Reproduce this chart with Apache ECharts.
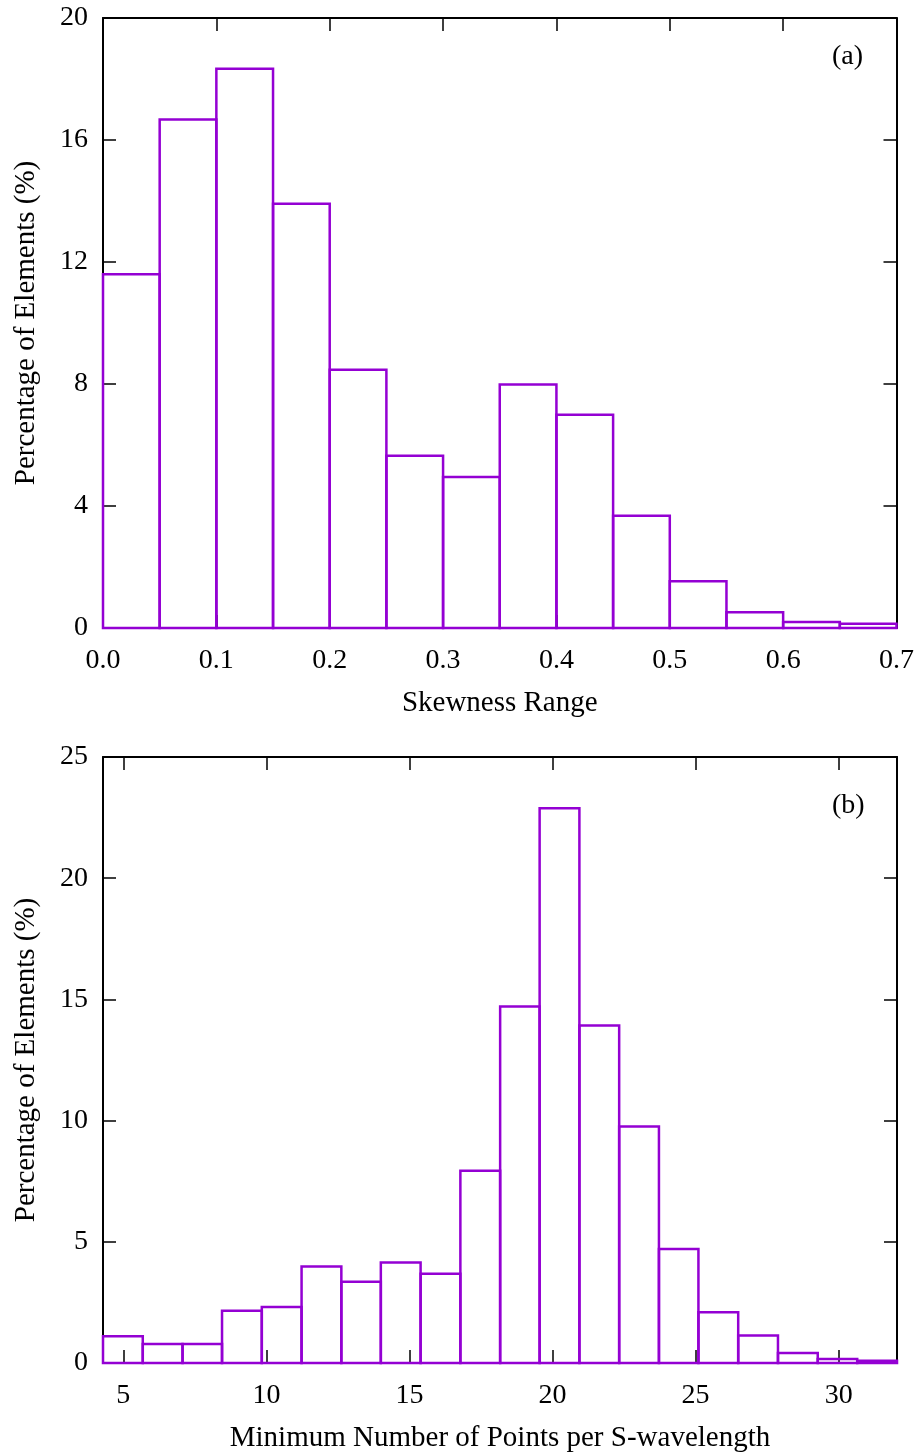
<!DOCTYPE html>
<html>
<head>
<meta charset="utf-8">
<script src="https://cdn.jsdelivr.net/npm/echarts@6/dist/echarts.min.js"></script>
<style>
  html, body { margin: 0; padding: 0; background: #ffffff; }
  #chart { width: 917px; height: 1456px; }
</style>
</head>
<body>
<div id="chart"></div>
<script>
// (a) skewness histogram: bin edges and percentage of elements per bin
const skewEdges = [0.00, 0.05, 0.10, 0.15, 0.20, 0.25, 0.30, 0.35, 0.40, 0.45, 0.50, 0.55, 0.60, 0.65, 0.70];
const skewPercent = [11.6, 16.67, 18.34, 13.91, 8.47, 5.65, 4.95, 7.98, 6.99, 3.68, 1.53, 0.52, 0.20, 0.14];

// (b) minimum points per S-wavelength histogram
const ppwEdges = [4.29, 5.68, 7.07, 8.45, 9.84, 11.23, 12.62, 14.00, 15.39, 16.78, 18.17,
                  19.55, 20.94, 22.33, 23.72, 25.10, 26.49, 27.88, 29.27, 30.65, 32.04];
const ppwPercent = [1.10, 0.78, 0.78, 2.16, 2.31, 3.98, 3.35, 4.15, 3.68, 7.93,
                    14.71, 22.89, 13.92, 9.76, 4.70, 2.09, 1.13, 0.41, 0.16, 0.09];
const ppwTickValues = [5, 10, 15, 20, 25, 30];

const BAR_COLOR = '#9400d3';
const FONT = '"Liberation Serif", "DejaVu Serif", serif';
const TICK_FS = 28;
const NAME_FS = 29;

function binRows(edges, values) {
  return values.map((v, i) => [edges[i], edges[i + 1], v]);
}

function renderBin(params, api) {
  const topLeft = api.coord([api.value(0), api.value(2)]);
  const bottomRight = api.coord([api.value(1), 0]);
  return {
    type: 'rect',
    shape: {
      x: topLeft[0],
      y: topLeft[1],
      width: bottomRight[0] - topLeft[0],
      height: bottomRight[1] - topLeft[1]
    },
    style: { fill: 'none', stroke: BAR_COLOR, lineWidth: 2.5 }
  };
}

const frameLine = { show: true, onZero: false, lineStyle: { color: '#000', width: 2 } };
const innerTick = { show: true, inside: true, length: 13, lineStyle: { color: '#000', width: 1.5 } };
const tickText = { color: '#000', fontFamily: FONT, fontSize: TICK_FS };
const nameText = { color: '#000', fontFamily: FONT, fontSize: NAME_FS };

const chart = echarts.init(document.getElementById('chart'), null, { renderer: 'canvas' });

chart.setOption({
  backgroundColor: '#ffffff',
  animation: false,
  grid: [
    { left: 103, top: 18, width: 794, height: 610 },
    { left: 103, top: 757, width: 794, height: 606 }
  ],
  xAxis: [
    {
      gridIndex: 0, type: 'value', position: 'bottom',
      min: 0, max: 0.7, interval: 0.1,
      axisLine: frameLine, axisTick: innerTick, splitLine: { show: false },
      axisLabel: Object.assign({ margin: 19, formatter: v => v.toFixed(1) }, tickText),
      name: 'Skewness Range', nameLocation: 'middle', nameGap: 61, nameTextStyle: nameText
    },
    {
      gridIndex: 0, type: 'value', position: 'top',
      min: 0, max: 0.7, interval: 0.1,
      axisLine: frameLine, axisTick: innerTick, splitLine: { show: false },
      axisLabel: { show: false }
    },
    {
      gridIndex: 1, type: 'value', position: 'bottom',
      min: ppwEdges[0], max: ppwEdges[ppwEdges.length - 1],
      axisLine: frameLine,
      axisTick: Object.assign({ customValues: ppwTickValues }, innerTick),
      splitLine: { show: false },
      axisLabel: Object.assign({ margin: 19, customValues: ppwTickValues }, tickText),
      name: 'Minimum Number of Points per S-wavelength', nameLocation: 'middle', nameGap: 61,
      nameTextStyle: nameText
    },
    {
      gridIndex: 1, type: 'value', position: 'top',
      min: ppwEdges[0], max: ppwEdges[ppwEdges.length - 1],
      axisLine: frameLine,
      axisTick: Object.assign({ customValues: ppwTickValues }, innerTick),
      splitLine: { show: false },
      axisLabel: { show: false }
    }
  ],
  yAxis: [
    {
      gridIndex: 0, type: 'value', position: 'left',
      min: 0, max: 20, interval: 4,
      axisLine: frameLine, axisTick: innerTick, splitLine: { show: false },
      axisLabel: Object.assign({ margin: 15 }, tickText),
      name: 'Percentage of Elements (%)', nameLocation: 'middle', nameGap: 62, nameRotate: 90,
      nameTextStyle: nameText
    },
    {
      gridIndex: 0, type: 'value', position: 'right',
      min: 0, max: 20, interval: 4,
      axisLine: frameLine, axisTick: innerTick, splitLine: { show: false },
      axisLabel: { show: false }
    },
    {
      gridIndex: 1, type: 'value', position: 'left',
      min: 0, max: 25, interval: 5,
      axisLine: frameLine, axisTick: innerTick, splitLine: { show: false },
      axisLabel: Object.assign({ margin: 15 }, tickText),
      name: 'Percentage of Elements (%)', nameLocation: 'middle', nameGap: 62, nameRotate: 90,
      nameTextStyle: nameText
    },
    {
      gridIndex: 1, type: 'value', position: 'right',
      min: 0, max: 25, interval: 5,
      axisLine: frameLine, axisTick: innerTick, splitLine: { show: false },
      axisLabel: { show: false }
    }
  ],
  graphic: [
    { type: 'text', left: 832, top: 43, style: { text: '(a)', fill: '#000', font: TICK_FS + 'px ' + FONT } },
    { type: 'text', left: 832, top: 792, style: { text: '(b)', fill: '#000', font: TICK_FS + 'px ' + FONT } }
  ],
  series: [
    {
      type: 'custom', xAxisIndex: 0, yAxisIndex: 0,
      renderItem: renderBin, encode: { x: [0, 1], y: 2 },
      data: binRows(skewEdges, skewPercent), clip: false, z: 1
    },
    {
      type: 'custom', xAxisIndex: 2, yAxisIndex: 2,
      renderItem: renderBin, encode: { x: [0, 1], y: 2 },
      data: binRows(ppwEdges, ppwPercent), clip: false, z: 1
    }
  ]
});
</script>
</body>
</html>
